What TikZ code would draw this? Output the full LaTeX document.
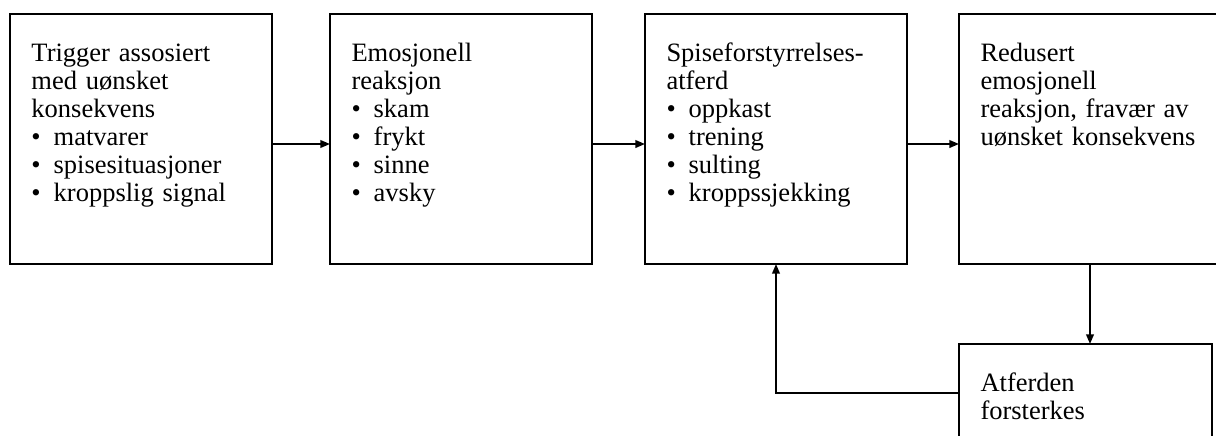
\documentclass[tikz,border=0pt]{standalone}
\usepackage{fontspec}
\setmainfont{Liberation Serif}
\usetikzlibrary{arrows.meta,positioning}
\newcommand{\itm}{\makebox[11.1pt][l]{•}}

\begin{document}
\begin{tikzpicture}[x=0.5pt,y=-0.5pt,>={Triangle[length=4.8pt,width=3.8pt]},
                    box/.style={draw,line width=1.1pt,align=left,inner xsep=10.75pt,inner ysep=0pt,outer sep=0pt,
                                text width=109.5pt,text height=23.5pt,text depth=101.5pt,
                                font=\fontsize{13.25}{14.05}\selectfont},
                    link/.style={->,line width=0.9pt}]

  \useasboundingbox (0,0) rectangle (1216,435);

  \node[box] (A) at (141,139)       {Trigger assosiert\\med uønsket\\konsekvens\\\itm matvarer\\\itm spisesituasjoner\\\itm kroppslig signal};
  \node[box] (B) [right=29pt of A]   {Emosjonell\\reaksjon\\\itm skam\\\itm frykt\\\itm sinne\\\itm avsky};
  \node[box] (C) [right=26.5pt of B] {Spiseforstyrrelses-\\atferd\\\itm oppkast\\\itm trening\\\itm sulting\\\itm kroppssjekking};
  \node[box] (D) [right=26pt of C]   {Redusert\\emosjonell\\reaksjon, fravær av\\uønsket konsekvens};
  \node[box,text width=105pt,text depth=25.5pt] (E) [below=40pt of D,xshift=-2.25pt] {Atferden\\forsterkes};

  \draw[link] ([yshift=-2.5pt]A.east) -- ([yshift=-2.5pt]B.west);
  \draw[link] ([yshift=-2.5pt]B.east) -- ([yshift=-2.5pt]C.west);
  \draw[link] ([yshift=-2.5pt]C.east) -- ([yshift=-2.5pt]D.west);
  \draw[link] (D.south) -- (D.south |- E.north);
  \draw[link] (E.west) -| (C.south);

\end{tikzpicture}
\end{document}
